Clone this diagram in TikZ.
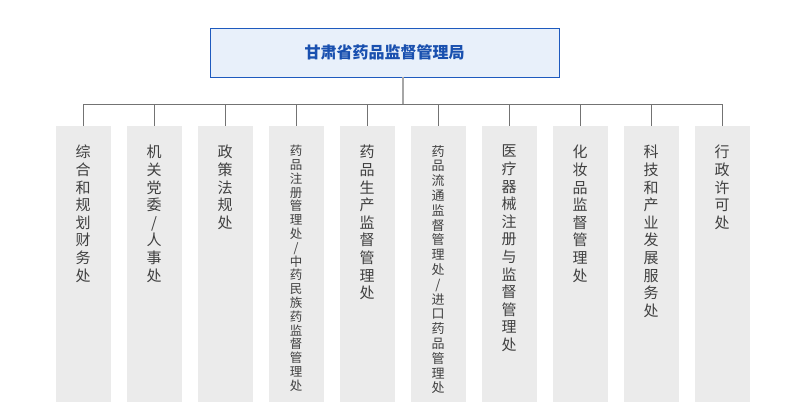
\documentclass[tikz,border=0pt]{standalone}
\usepackage{fontspec}
\setmainfont{Noto Sans CJK SC}
\definecolor{topfill}{RGB}{232,240,250}
\definecolor{topdraw}{RGB}{30,90,190}
\definecolor{toptext}{RGB}{25,80,175}
\begin{document}
\begin{tikzpicture}[x=1pt,y=-1pt,
  top/.style={draw=topdraw,line width=0.8pt,fill=topfill,text=toptext,minimum width=349pt,minimum height=49pt,font=\fontsize{16}{18}\selectfont\bfseries},
  col/.style={fill=black!8,minimum width=55pt,minimum height=276pt,anchor=north},
  lbl/.style={anchor=north,align=center,text=black!75,inner sep=0pt,font=\fontsize{15}{17.6}\selectfont},
  lbls/.style={anchor=north,align=center,text=black!75,inner sep=0pt,font=\fontsize{12.5}{13.8}\selectfont},
  lblm/.style={anchor=north,align=center,text=black!75,inner sep=0pt,font=\fontsize{13}{14.8}\selectfont},
  conn/.style={draw=black!55,line width=0.7pt}]
\useasboundingbox (0,0) rectangle (798,418);
\node[top] (root) at (384.5,52.5) {甘肃省药品监督管理局};
\coordinate (j) at (403,104);
\draw[draw=black!35,line width=1.2pt] (root.south -| j) -- (j);
\coordinate (l) at (83,104); \coordinate (r) at (722,104);
\draw[conn] (l) -- (r);
\foreach \i/\t/\s in {0/{综\\合\\和\\规\\划\\财\\务\\处}/lbl,
 1/{机\\关\\党\\委\\/\\人\\事\\处}/lbl,
 2/{政\\策\\法\\规\\处}/lbl,
 3/{药\\品\\注\\册\\管\\理\\处\\/\\中\\药\\民\\族\\药\\监\\督\\管\\理\\处}/lbls,
 4/{药\\品\\生\\产\\监\\督\\管\\理\\处}/lbl,
 5/{药\\品\\流\\通\\监\\督\\管\\理\\处\\/\\进\\口\\药\\品\\管\\理\\处}/lblm,
 6/{医\\疗\\器\\械\\注\\册\\与\\监\\督\\管\\理\\处}/lbl,
 7/{化\\妆\\品\\监\\督\\管\\理\\处}/lbl,
 8/{科\\技\\和\\产\\业\\发\\展\\服\\务\\处}/lbl,
 9/{行\\政\\许\\可\\处}/lbl}{
  \node[col] (c\i) at ({83+71*\i},126) {};
  \node[\s] (t\i) at ({83+71*\i},145) {\t};
  \draw[conn] (c\i.north |- l) -- (c\i.north);
}
\end{tikzpicture}
\end{document}
